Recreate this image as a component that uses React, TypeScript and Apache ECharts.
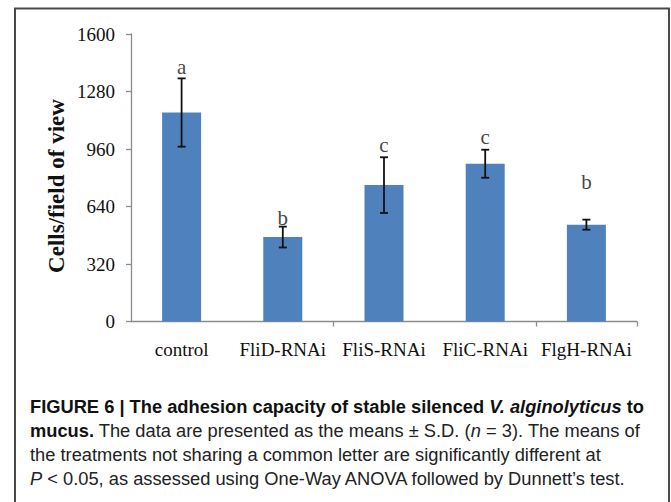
import React, { useEffect, useRef } from "react";
import * as echarts from "echarts";

const categories = ["control", "FliD-RNAi", "FliS-RNAi", "FliC-RNAi", "FlgH-RNAi"];
const means = [1163, 470, 759, 878, 539];
const sds = [190, 58, 155, 78, 28];
const letters = ["a", "b", "c", "c", "b"];
const letterValues = [1418, 576, 982, 1028, 778];
const yMin = 0;
const yMax = 1600;
const yInterval = 320;
const yAxisTitle = "Cells/field of view";
const captionLines = [
  "{b|FIGURE 6 | The adhesion capacity of stable silenced }{bi|V. alginolyticus}{b| to}",
  "{b|mucus.} The data are presented as the means ± S.D. ({i|n} = 3). The means of",
  "the treatments not sharing a common letter are significantly different at",
  "{i|P} < 0.05, as assessed using One-Way ANOVA followed by Dunnett’s test.",
];

const SERIF = '"Liberation Serif", "Times New Roman", serif';
const SANS = '"Liberation Sans", Arial, Helvetica, sans-serif';
const CAP = 18.3;

export default function App() {
  const ref = useRef<HTMLDivElement>(null);
  useEffect(() => {
    if (!ref.current) return;
    const chart = echarts.init(ref.current, null, { renderer: "svg" });
    const errData = means.map((m, i) => [i, m - sds[i], m + sds[i]]);
    const letterData = letterValues.map((v, i) => [i, v]);
    chart.setOption({
      animation: false,
      backgroundColor: "#ffffff",
      grid: { left: 131, right: 34, top: 34, bottom: 180.5 },
      xAxis: {
        type: "category",
        data: categories,
        axisLine: { lineStyle: { color: "#8c8c8c", width: 1.3 } },
        axisTick: {
          show: true,
          length: 5,
          interval: (index: number) => index === 2 || index === 4,
          lineStyle: { color: "#8c8c8c", width: 1.3 },
        },
        axisLabel: {
          fontFamily: SERIF,
          fontSize: 19,
          color: "#111111",
          margin: 18,
          interval: 0,
        },
      },
      yAxis: {
        type: "value",
        min: yMin,
        max: yMax,
        interval: yInterval,
        splitLine: { show: false },
        axisLine: { show: true, lineStyle: { color: "#8c8c8c", width: 1.3 } },
        axisTick: { show: true, length: 5, lineStyle: { color: "#8c8c8c", width: 1.3 } },
        axisLabel: {
          fontFamily: SERIF,
          fontSize: 19,
          color: "#111111",
          margin: 16,
          formatter: (v: number) => String(v),
        },
      },
      graphic: [
        {
          type: "rect",
          shape: { x: 15, y: 8.5, width: 654, height: 540 },
          style: { fill: "none", stroke: "#4a4a4a", lineWidth: 2 },
          silent: true,
        },
        {
          type: "text",
          x: 56,
          y: 186,
          rotation: Math.PI / 2,
          style: {
            text: yAxisTitle,
            font: `bold 23px ${SERIF}`,
            fill: "#111111",
            align: "center",
            verticalAlign: "middle",
          },
        },
        ...captionLines.map((line, i) => ({
          type: "text",
          x: 30,
          y: 406 + i * 24.2,
          style: {
            text: line,
            font: `${CAP}px ${SANS}`,
            fill: "#222222",
            align: "left",
            verticalAlign: "middle",
            rich: {
              b: { font: `bold ${CAP}px ${SANS}`, fill: "#111111" },
              bi: { font: `italic bold ${CAP}px ${SANS}`, fill: "#111111" },
              i: { font: `italic ${CAP}px ${SANS}`, fill: "#222222" },
            },
          },
        })),
      ],
      series: [
        {
          type: "bar",
          data: means,
          barWidth: 39,
          itemStyle: { color: "#4F81BD" },
          z: 2,
        },
        {
          type: "custom",
          data: errData,
          z: 5,
          renderItem: (params: any, api: any) => {
            const x = api.value(0);
            const lo = api.coord([x, api.value(1)]);
            const hi = api.coord([x, api.value(2)]);
            const half = 4;
            const st = { stroke: "#111111", lineWidth: 1.8 };
            return {
              type: "group",
              children: [
                { type: "line", shape: { x1: hi[0], y1: hi[1], x2: lo[0], y2: lo[1] }, style: st },
                { type: "line", shape: { x1: hi[0] - half, y1: hi[1], x2: hi[0] + half, y2: hi[1] }, style: st },
                { type: "line", shape: { x1: lo[0] - half, y1: lo[1], x2: lo[0] + half, y2: lo[1] }, style: st },
              ],
            };
          },
        },
        {
          type: "scatter",
          data: letterData,
          symbolSize: 0,
          z: 6,
          label: {
            show: true,
            position: "inside",
            formatter: (p: any) => letters[p.dataIndex],
            fontFamily: SERIF,
            fontSize: 21,
            color: "#111111",
          },
        },
      ],
    });
    return () => chart.dispose();
  }, []);
  return (
    <div
      style={{ position: "absolute", left: 0, top: 0, width: 671, height: 502, background: "#fff" }}
    >
      <div ref={ref} style={{ width: 671, height: 502 }} />
    </div>
  );
}
